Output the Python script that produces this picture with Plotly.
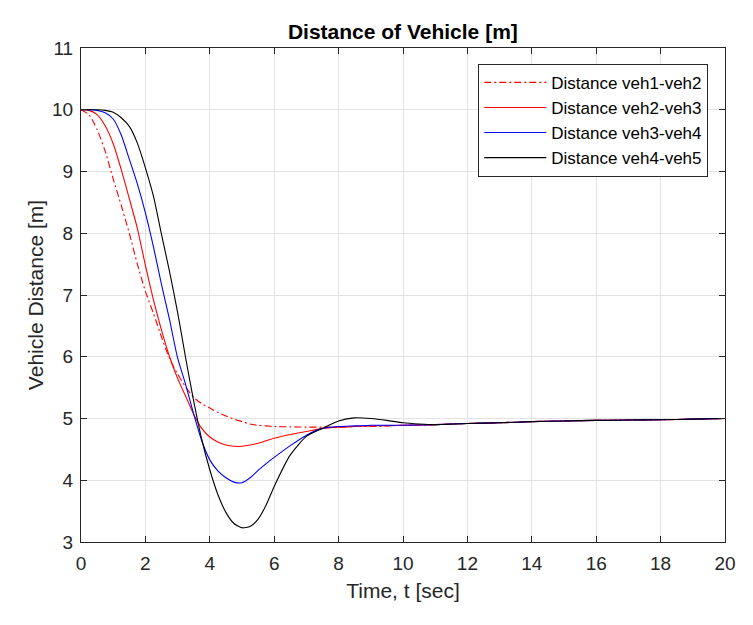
import plotly.graph_objects as go

t = [0, 0.25, 0.5, 0.75, 1, 1.25, 1.5, 1.75, 2, 2.25, 2.5, 2.75, 3, 3.25, 3.5, 3.75,
     4, 4.25, 4.5, 4.75, 5, 5.25, 5.5, 5.75, 6, 6.5, 7, 7.5, 8, 8.5, 9, 9.5, 10, 10.5,
     11, 12, 13, 14, 15, 16, 17, 18, 19, 20]

d12 = [10.0, 9.92, 9.68, 9.33, 8.88, 8.45, 8.0, 7.5, 7.06, 6.7, 6.32, 5.97, 5.72, 5.51, 5.34, 5.24,
       5.17, 5.1, 5.04, 4.99, 4.95, 4.91, 4.89, 4.88, 4.87, 4.865, 4.86, 4.86, 4.86, 4.87, 4.87, 4.88, 4.89, 4.89,
       4.9, 4.92, 4.93, 4.95, 4.96, 4.97, 4.975, 4.98, 4.99, 5.0]

d23 = [10.0, 9.99, 9.92, 9.74, 9.45, 9.03, 8.56, 8.08, 7.48, 6.92, 6.43, 6.0, 5.65, 5.36, 5.07, 4.84,
       4.7, 4.62, 4.57, 4.55, 4.55, 4.57, 4.6, 4.64, 4.68, 4.74, 4.79, 4.84, 4.86, 4.87, 4.88, 4.885, 4.89, 4.895,
       4.9, 4.92, 4.93, 4.95, 4.96, 4.97, 4.975, 4.98, 4.99, 5.0]

d34 = [10.0, 10.0, 9.99, 9.95, 9.85, 9.59, 9.2, 8.8, 8.33, 7.78, 7.17, 6.6, 5.98, 5.55, 5.07, 4.64,
       4.33, 4.15, 4.04, 3.97, 3.96, 4.04, 4.16, 4.27, 4.37, 4.56, 4.73, 4.84, 4.87, 4.88, 4.89, 4.89, 4.89, 4.895,
       4.9, 4.92, 4.93, 4.95, 4.96, 4.97, 4.975, 4.98, 4.99, 5.0]

d45 = [10.0, 10.0, 10.0, 9.99, 9.96, 9.87, 9.73, 9.46, 9.06, 8.6, 7.98, 7.38, 6.72, 5.98, 5.28, 4.66,
       4.17, 3.77, 3.48, 3.3, 3.23, 3.25, 3.37, 3.6, 3.9, 4.41, 4.71, 4.84, 4.96, 5.01, 5.0, 4.97, 4.93, 4.91,
       4.9, 4.92, 4.93, 4.95, 4.96, 4.97, 4.975, 4.98, 4.99, 5.0]

names = ["Distance veh1-veh2", "Distance veh2-veh3", "Distance veh3-veh4", "Distance veh4-veh5"]
series = [d12, d23, d34, d45]
colors = ["#ff0000", "#ff0000", "#0000ff", "#000000"]
dashes = ["7px,3px,2px,3px", "solid", "solid", "solid"]

x_ticks = list(range(0, 21, 2))
y_ticks = list(range(3, 12))

FONT = "Liberation Sans, Arial, Helvetica, sans-serif"
AX = "#262626"
GRID = "#e3e3e3"

fig = go.Figure()
for name, ys, c, d in zip(names, series, colors, dashes):
    fig.add_trace(go.Scatter(x=t, y=ys, mode="lines", name=name,
                             line=dict(color=c, width=1.1, dash=d, shape="spline", smoothing=0.6)))

axis_common = dict(showline=True, linecolor=AX, linewidth=1, mirror="ticks",
                   ticks="inside", ticklen=6, tickcolor=AX, tickwidth=1,
                   showgrid=True, gridcolor=GRID, gridwidth=1, zeroline=False,
                   tickfont=dict(family=FONT, size=19, color=AX))

fig.update_xaxes(range=[0, 20], tickvals=x_ticks, ticktext=[str(v) for v in x_ticks],
                 ticklabelstandoff=4,
                 title=dict(text="Time, t [sec]", font=dict(family=FONT, size=21, color=AX), standoff=10),
                 **axis_common)
fig.update_yaxes(range=[3, 11], tickvals=y_ticks, ticktext=[str(v) for v in y_ticks],
                 ticklabelstandoff=3,
                 title=dict(text="Vehicle Distance [m]", font=dict(family=FONT, size=21, color=AX), standoff=2),
                 **axis_common)

fig.update_layout(
    width=753, height=625,
    margin=dict(l=81, r=28, t=48, b=83),
    paper_bgcolor="white", plot_bgcolor="white",
    title=dict(text="<b>Distance of Vehicle [m]</b>", x=(80.7 + 725) / 2 / 753, xanchor="center",
               y=1 - 32 / 625, yanchor="middle", yref="container",
               font=dict(family=FONT, size=21, color="black")),
    legend=dict(x=0.974, y=0.968, xanchor="right", yanchor="top",
                bgcolor="white", bordercolor=AX, borderwidth=1,
                font=dict(family=FONT, size=17, color="black"),
                tracegroupgap=0, itemwidth=62),
    showlegend=True,
)

fig.write_html("out.html")
